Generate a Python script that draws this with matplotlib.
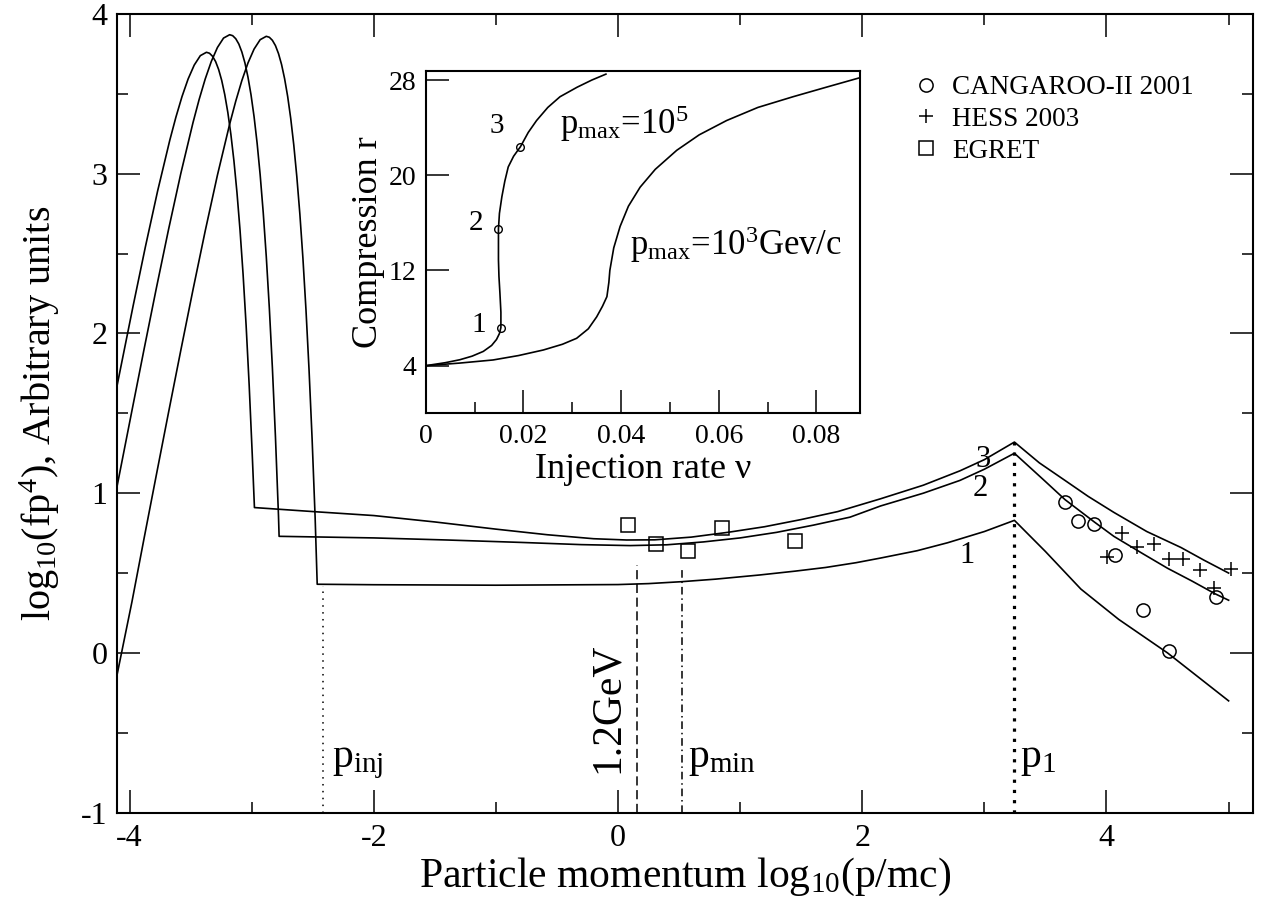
import matplotlib
matplotlib.use("Agg")
import matplotlib.pyplot as plt

plt.rcParams['font.family'] = ['Liberation Serif', 'DejaVu Serif']
plt.rcParams['mathtext.fontset'] = 'custom'
plt.rcParams['mathtext.rm'] = 'Liberation Serif'
plt.rcParams['mathtext.it'] = 'Liberation Serif:italic'
plt.rcParams['mathtext.bf'] = 'Liberation Serif:bold'
plt.rcParams['axes.unicode_minus'] = False

# main spectra, curves 1..3
x1 = [-4.10, -3.98, -3.88, -3.78, -3.68, -3.58, -3.48, -3.38, -3.28, -3.18, -3.13, -3.08,
      -3.03, -2.98, -2.93, -2.88, -2.855, -2.83, -2.805, -2.78, -2.755, -2.73, -2.705,
      -2.68, -2.655, -2.63, -2.605, -2.58, -2.555, -2.53, -2.505, -2.48, -2.463,
      -2.0, -1.0, 0.0, 0.25, 0.52, 0.8, 1.16, 1.45, 1.7, 1.95, 2.15, 2.45, 2.7, 3.0, 3.246,
      3.5, 3.79, 4.1, 4.5, 4.75, 5.0]
y1 = [-0.13, 0.32, 0.72, 1.115, 1.507, 1.894, 2.274, 2.642, 2.991, 3.31, 3.454, 3.583,
      3.693, 3.78, 3.839, 3.86, 3.854, 3.835, 3.802, 3.752, 3.684, 3.595, 3.484,
      3.347, 3.181, 2.982, 2.747, 2.471, 2.149, 1.775, 1.344, 0.848, 0.43,
      0.427, 0.424, 0.428, 0.434, 0.446, 0.462, 0.488, 0.512, 0.535, 0.565, 0.594, 0.64, 0.69, 0.76, 0.83,
      0.635, 0.40, 0.21, 0.00, -0.15, -0.30]

x2 = [-4.10, -3.98, -3.88, -3.78, -3.68, -3.58, -3.48, -3.43, -3.38, -3.33, -3.28, -3.23,
      -3.18, -3.155, -3.13, -3.105, -3.08, -3.055, -3.03, -3.005, -2.98, -2.955, -2.93,
      -2.905, -2.88, -2.855, -2.83, -2.805, -2.78, -2.775,
      -2.0, -1.4, -0.8, -0.3, 0.1, 0.4, 0.7, 1.0, 1.3, 1.6, 1.9, 2.15, 2.5, 2.8, 3.0, 3.246,
      3.49, 3.66, 3.9, 4.06, 4.3, 4.5, 4.7, 4.89, 5.0]
y2 = [1.05, 1.517, 1.904, 2.284, 2.652, 3.001, 3.32, 3.464, 3.593, 3.703, 3.79, 3.849,
      3.87, 3.864, 3.845, 3.812, 3.762, 3.694, 3.605, 3.494, 3.357, 3.191, 2.992,
      2.757, 2.481, 2.159, 1.785, 1.354, 0.858, 0.73,
      0.72, 0.707, 0.692, 0.678, 0.672, 0.677, 0.695, 0.72, 0.755, 0.80, 0.85, 0.92, 1.0, 1.08, 1.15, 1.25,
      1.08, 0.96, 0.82, 0.73, 0.62, 0.53, 0.45, 0.37, 0.33]

x3 = [-4.10, -3.97, -3.87, -3.77, -3.67, -3.62, -3.57, -3.52, -3.47, -3.42, -3.37, -3.345,
      -3.32, -3.295, -3.27, -3.245, -3.22, -3.195, -3.17, -3.145, -3.12, -3.095, -3.07,
      -3.045, -3.02, -2.995, -2.977,
      -2.5, -2.0, -1.5, -1.0, -0.58, -0.2, 0.07, 0.3, 0.6, 0.9, 1.2, 1.5, 1.8, 2.15, 2.5, 2.8, 3.0, 3.246,
      3.45, 3.66, 3.85, 4.06, 4.33, 4.61, 4.8, 5.0]
y3 = [1.68, 2.174, 2.542, 2.891, 3.21, 3.354, 3.483, 3.593, 3.68, 3.739, 3.76, 3.754,
      3.735, 3.702, 3.652, 3.584, 3.495, 3.384, 3.247, 3.081, 2.882, 2.647, 2.371,
      2.049, 1.675, 1.244, 0.91,
      0.885, 0.86, 0.82, 0.775, 0.74, 0.715, 0.707, 0.708, 0.725, 0.755, 0.79, 0.835, 0.885, 0.965, 1.05, 1.14, 1.21, 1.32,
      1.19, 1.08, 0.98, 0.88, 0.76, 0.66, 0.58, 0.50]

# observations
cang_x = [3.664, 3.765, 3.899, 4.068, 4.30, 4.514, 4.893]
cang_y = [0.947, 0.826, 0.809, 0.611, 0.267, 0.014, 0.349]
hess_x = [4.006, 4.128, 4.25, 4.39, 4.51, 4.63, 4.762, 4.88, 5.016]
hess_y = [0.603, 0.753, 0.665, 0.682, 0.586, 0.586, 0.519, 0.405, 0.524]
egret_x = [0.085, 0.311, 0.576, 0.85, 1.45]
egret_y = [0.801, 0.68, 0.64, 0.78, 0.70]

# marker lines: p_inj, 1.2 GeV, p_min, p_1
vline_x = [-2.415, 0.156, 0.52, 3.246]
vline_top = [0.42, 0.55, 0.54, 1.32]

# inset: compression ratio vs injection rate
nu_a = [0, 0.004, 0.007, 0.0095, 0.0118, 0.0135, 0.0145, 0.0151, 0.0154, 0.0154, 0.0152, 0.0150,
        0.0149, 0.0149, 0.0149, 0.0151, 0.0156, 0.0162, 0.0169, 0.0180, 0.0194, 0.0210, 0.0227,
        0.0250, 0.0275, 0.0310, 0.0340, 0.0369]
r_a = [4.0, 4.25, 4.5, 4.8, 5.2, 5.7, 6.2, 6.7, 7.2, 8.5, 10.1, 11.5,
       12.9, 14.2, 15.5, 16.8, 18.2, 19.5, 20.7, 21.6, 22.4, 23.6, 24.6,
       25.7, 26.6, 27.4, 28.0, 28.5]
nu_b = [0, 0.007, 0.0138, 0.019, 0.0241, 0.028, 0.0309, 0.0333, 0.0350, 0.0362, 0.0371, 0.0375,
        0.0377, 0.0385, 0.0398, 0.0415, 0.0439, 0.0470, 0.0514, 0.0560, 0.0616, 0.068, 0.0752,
        0.082, 0.0889]
r_b = [4.0, 4.22, 4.48, 4.85, 5.32, 5.8, 6.3, 7.1, 8.1, 9.0, 9.8, 11.0,
       12.0, 13.9, 15.7, 17.4, 19.0, 20.5, 22.1, 23.4, 24.6, 25.7, 26.6,
       27.4, 28.2]
pts_nu = [0.0154, 0.0149, 0.0194]
pts_r = [7.2, 15.5, 22.4]

fig = plt.figure(figsize=(12.68, 9.06), dpi=100)
ax = fig.add_axes([0.0925, 0.103, 0.8957, 0.8816])

lw = 1.2
ax.plot(x1, y1, color='k', lw=lw)
ax.plot(x2, y2, color='k', lw=lw)
ax.plot(x3, y3, color='k', lw=lw)

ax.plot(cang_x, cang_y, 'o', ms=9.5, mfc='none', mec='k', mew=1.1, label='CANGAROO-II 2001')
ax.plot(hess_x, hess_y, '+', ms=10, mec='k', mew=1.1, label='HESS 2003')
ax.plot(egret_x, egret_y, 's', ms=10, mfc='none', mec='k', mew=1.1, label='EGRET')

styles = [(0, (1, 3.5)), (0, (6, 3)), (0, (5, 2.5, 1, 2.5)), (0, (1, 2.2))]
widths = [1.1, 1.1, 1.1, 2.3]
for xv, top, ls, w in zip(vline_x, vline_top, styles, widths):
    ax.plot([xv, xv], [-1, top], color='k', lw=w, linestyle=ls)

ax.text(-2.34, -0.714, r'p$_{\mathrm{inj}}$', fontsize=30, ha='left', va='baseline')
ax.text(0.574, -0.714, r'p$_{\mathrm{min}}$', fontsize=30, ha='left', va='baseline')
ax.text(3.29, -0.714, r'p$_{\mathrm{1}}$', fontsize=30, ha='left', va='baseline')
ax.text(-0.082, -0.345, '1.2GeV', fontsize=30, rotation=90, ha='center', va='center')

ax.text(2.99, 1.21, '3', fontsize=22, ha='center', va='center')
ax.text(2.97, 1.03, '2', fontsize=22, ha='center', va='center')
ax.text(2.86, 0.607, '1', fontsize=22, ha='center', va='center')

ax.set_xlim(-4.1, 5.2)
ax.set_ylim(-1, 4)
ax.set_xticks([-4, -2, 0, 2, 4])
ax.set_xticks([-3, -1, 1, 3, 5], minor=True)
ax.set_yticks([-1, 0, 1, 2, 3, 4])
ax.set_yticks([-0.5, 0.5, 1.5, 2.5, 3.5], minor=True)
ax.tick_params(which='both', direction='in', top=True, right=True, width=1.1)
ax.tick_params(which='major', length=16.5, labelsize=23)
ax.tick_params(which='minor', length=8)
ax.tick_params(axis='x', which='major', pad=8)
ax.tick_params(axis='y', which='major', pad=7)
for s in ax.spines.values():
    s.set_linewidth(1.5)

ax.set_xlabel(r'Particle momentum log$_{10}$(p/mc)', fontsize=30, labelpad=2)
ax.set_ylabel(r'log$_{10}$(fp$^4$), Arbitrary units', fontsize=29, labelpad=14)

ax.legend(loc='upper left', bbox_to_anchor=(0.7218, 0.917), bbox_transform=fig.transFigure,
          frameon=False, fontsize=19.5, handlelength=0.8, handletextpad=0.55,
          labelspacing=0.25, borderpad=0, borderaxespad=0)

# inset
ins = fig.add_axes([0.3357, 0.5445, 0.3425, 0.3771])
ins.plot(nu_a, r_a, color='k', lw=1.2)
ins.plot(nu_b, r_b, color='k', lw=1.2)
ins.plot(pts_nu, pts_r, 'o', ms=5.5, mfc='none', mec='k', mew=1.0)
ins.text(0.0108, 7.4, '1', fontsize=21, ha='center', va='center')
ins.text(0.0104, 16.0, '2', fontsize=21, ha='center', va='center')
ins.text(0.0145, 24.1, '3', fontsize=21, ha='center', va='center')
ins.text(0.0275, 24.3, r'p$_{\mathrm{max}}$=10$^5$', fontsize=25, ha='left', va='center')
ins.text(0.0418, 14.2, r'p$_{\mathrm{max}}$=10$^3$Gev/c', fontsize=25, ha='left', va='center')
ins.set_xlim(0, 0.0889)
ins.set_ylim(0.05, 28.76)
ins.set_xticks([0, 0.02, 0.04, 0.06, 0.08])
ins.set_xticklabels(['0', '0.02', '0.04', '0.06', '0.08'])
ins.set_xticks([0.01, 0.03, 0.05, 0.07], minor=True)
ins.set_yticks([4, 12, 20, 28])
ins.tick_params(which='both', direction='in', width=1.1)
ins.tick_params(which='major', length=16.5, labelsize=20)
ins.tick_params(which='minor', length=8)
ins.tick_params(axis='x', pad=8)
ins.tick_params(axis='y', pad=7)
for s in ins.spines.values():
    s.set_linewidth(1.5)
ins.set_xlabel(r'Injection rate $\mathrm{\nu}$', fontsize=26, labelpad=2)
ins.set_ylabel('Compression r', fontsize=26, labelpad=2)

fig.savefig('out.png', dpi=100)
